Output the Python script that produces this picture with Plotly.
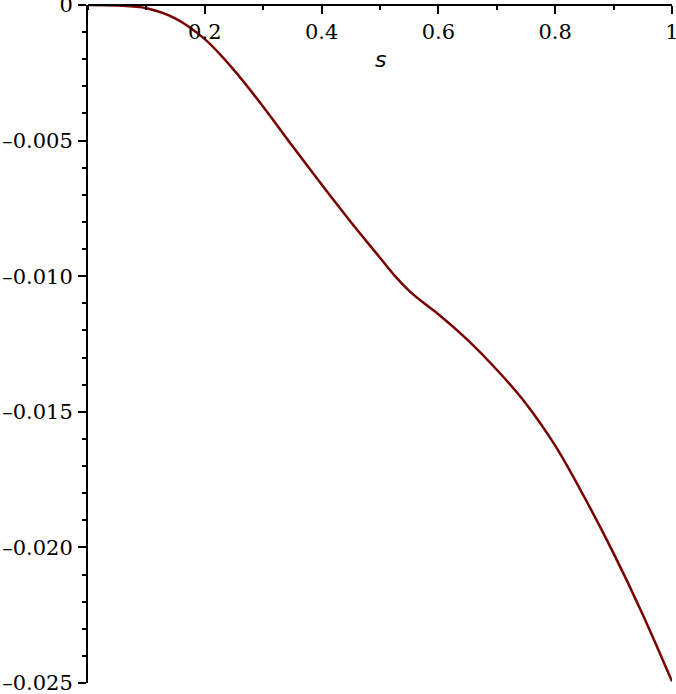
import plotly.graph_objects as go

# curve values
s_vals = [0.0, 0.05, 0.1, 0.15, 0.2, 0.25, 0.3, 0.35, 0.4, 0.45, 0.5, 0.525,
          0.55, 0.575, 0.6, 0.65, 0.7, 0.75, 0.8, 0.85, 0.9, 0.95, 1.0]
y_vals = [0.0, -0.00002, -0.00012, -0.00050, -0.00126, -0.00240, -0.00375,
          -0.00520, -0.00662, -0.00800, -0.00932, -0.00998, -0.01054, -0.01099,
          -0.01140, -0.01235, -0.01345, -0.01470, -0.01625, -0.01815, -0.02022,
          -0.02248, -0.02494]

x_ticks = [0.2, 0.4, 0.6, 0.8, 1.0]
x_ticktext = ['0.2', '0.4', '0.6', '0.8', '1']
y_ticks = [0, -0.005, -0.010, -0.015, -0.020, -0.025]
y_ticktext = ['0', '\u20130.005', '\u20130.010', '\u20130.015', '\u20130.020', '\u20130.025']

tick_font = dict(family='DejaVu Serif', size=21, color='black')

fig = go.Figure()
fig.add_trace(go.Scatter(x=s_vals, y=y_vals, mode='lines', line_shape='spline',
                         line=dict(color='#780000', width=2.5, smoothing=1), showlegend=False,
                         cliponaxis=False))

fig.update_layout(
    width=676, height=694,
    margin=dict(l=88, r=4, t=5, b=11),
    plot_bgcolor='white', paper_bgcolor='white',
    xaxis=dict(range=[0, 1], anchor='free', position=1, side='bottom', automargin=False,
               showgrid=False, zeroline=False, showline=True, linecolor='black', linewidth=2,
               ticks='outside', ticklen=8, tickwidth=1.5, tickcolor='black',
               tickvals=x_ticks, ticktext=x_ticktext, tickfont=tick_font,
               ticklabeloverflow='allow',
               minor=dict(tick0=0, dtick=0.1, ticks='outside', ticklen=4, tickwidth=1.5,
                          tickcolor='black', showgrid=False)),
    yaxis=dict(range=[-0.025, 0], automargin=False, showgrid=False, zeroline=False, showline=True,
               linecolor='black', linewidth=2,
               ticks='outside', ticklen=8, tickwidth=1.5, tickcolor='black',
               tickvals=y_ticks, ticktext=y_ticktext, tickfont=tick_font,
               ticklabeloverflow='allow', ticklabelstandoff=1,
               minor=dict(tick0=0, dtick=0.001, ticks='outside', ticklen=4, tickwidth=1.5,
                          tickcolor='black', showgrid=False)),
)

# axis label "s" sits inside the plot, under the top axis
fig.add_annotation(x=0.5, y=-0.002, xref='x', yref='y', text='<i>s</i>', showarrow=False,
                   font=dict(family='DejaVu Sans', size=22, color='black'))

# drop the default page margin so the figure sits at the window corner
fig.write_html('out.html', config={'displayModeBar': False},
               post_script="document.body.style.margin='0px';")
